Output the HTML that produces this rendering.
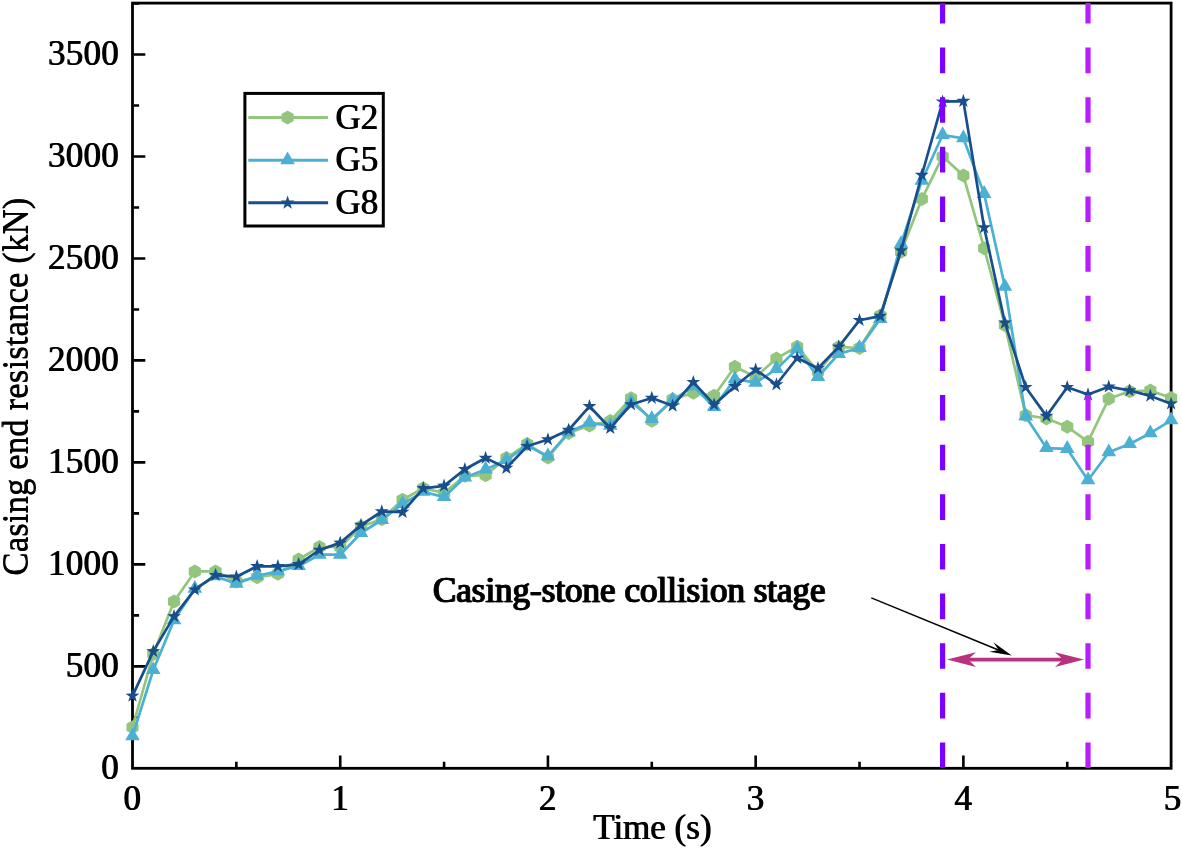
<!DOCTYPE html>
<html lang="en"><head><meta charset="utf-8"><title>Casing end resistance vs time</title>
<style>html,body{margin:0;padding:0;background:#fff}body{width:1182px;height:848px;overflow:hidden}svg{display:block}text{font-family:"Liberation Serif","Times New Roman",Times,serif;font-size:35px;fill:#000;}</style>
</head><body>
<svg width="1182" height="848" viewBox="0 0 1182 848">
<rect x="0" y="0" width="1182" height="848" fill="#fff"/>
<filter id="hb" filterUnits="userSpaceOnUse" x="0" y="0" width="1182" height="848"><feOffset in="SourceGraphic" dx="1" dy="0" result="a"/><feMerge><feMergeNode in="a"/><feMergeNode in="SourceGraphic"/></feMerge></filter>
<rect x="132.5" y="3.1" width="1038.6" height="765.2" fill="none" stroke="#000" stroke-width="2.8"/>
<path d="M340.22,767.1V755.5M547.94,767.1V755.5M755.66,767.1V755.5M963.38,767.1V755.5M236.36,767.1V761.7M444.08,767.1V761.7M651.8,767.1V761.7M859.52,767.1V761.7M1067.24,767.1V761.7M133.7,666.33H145.3M133.7,564.36H145.3M133.7,462.39H145.3M133.7,360.41H145.3M133.7,258.44H145.3M133.7,156.47H145.3M133.7,54.5H145.3M133.7,717.31H139.1M133.7,615.34H139.1M133.7,513.37H139.1M133.7,411.4H139.1M133.7,309.43H139.1M133.7,207.46H139.1M133.7,105.49H139.1M133.7,3.51H139.1" stroke="#000" stroke-width="2.6" fill="none"/>
<g text-anchor="end" filter="url(#hb)" letter-spacing="0.3">
<text x="118.6" y="779">0</text>
<text x="118.6" y="677.03">500</text>
<text x="118.6" y="575.06">1000</text>
<text x="118.6" y="473.09">1500</text>
<text x="118.6" y="371.11">2000</text>
<text x="118.6" y="269.14">2500</text>
<text x="118.6" y="167.17">3000</text>
<text x="118.6" y="65.2">3500</text>
</g>
<g text-anchor="middle" filter="url(#hb)">
<text x="131.8" y="809.6">0</text>
<text x="339.52" y="809.6">1</text>
<text x="547.24" y="809.6">2</text>
<text x="754.96" y="809.6">3</text>
<text x="962.68" y="809.6">4</text>
<text x="1171.9" y="809.6">5</text>
</g>
<text x="651.9" y="839" text-anchor="middle" filter="url(#hb)">Time (s)</text>
<g filter="url(#hb)"><text transform="translate(27.3 386.6) rotate(-90)" text-anchor="middle">Casing end resistance (kN)</text></g>
<polyline points="132.5,727.3 153.27,654 174.04,601.4 194.82,571.4 215.59,571.4 236.36,581.5 257.13,577.3 277.9,573.8 298.68,559.5 319.45,547 340.22,547 360.99,526.5 381.76,519.2 402.54,499.7 423.31,488.3 444.08,493 464.85,475.8 485.62,475.2 506.4,458 527.17,444 547.94,457.4 568.71,432.9 589.48,425.6 610.26,421 631.03,398.3 651.8,420.8 672.57,399.2 693.34,392.8 714.12,395.8 734.89,366.8 755.66,376.9 776.43,358.5 797.2,346.7 817.98,371.7 838.75,346.9 859.52,348 880.29,315.5 901.06,251.8 921.84,199.1 942.61,156.4 963.38,175.6 984.15,248.2 1004.92,325.2 1025.7,415.2 1046.47,418.5 1067.24,426.8 1088.01,441.7 1108.78,398.7 1129.56,391.3 1150.33,390.5 1171.1,397.9" fill="none" stroke="#93c57d" stroke-width="2.7" stroke-linejoin="round"/>
<path d="M132.5,720.3L126.44,723.8L126.44,730.8L132.5,734.3L138.56,730.8L138.56,723.8ZM153.27,647L147.21,650.5L147.21,657.5L153.27,661L159.33,657.5L159.33,650.5ZM174.04,594.4L167.98,597.9L167.98,604.9L174.04,608.4L180.11,604.9L180.11,597.9ZM194.82,564.4L188.75,567.9L188.75,574.9L194.82,578.4L200.88,574.9L200.88,567.9ZM215.59,564.4L209.53,567.9L209.53,574.9L215.59,578.4L221.65,574.9L221.65,567.9ZM236.36,574.5L230.3,578L230.3,585L236.36,588.5L242.42,585L242.42,578ZM257.13,570.3L251.07,573.8L251.07,580.8L257.13,584.3L263.19,580.8L263.19,573.8ZM277.9,566.8L271.84,570.3L271.84,577.3L277.9,580.8L283.97,577.3L283.97,570.3ZM298.68,552.5L292.61,556L292.61,563L298.68,566.5L304.74,563L304.74,556ZM319.45,540L313.39,543.5L313.39,550.5L319.45,554L325.51,550.5L325.51,543.5ZM340.22,540L334.16,543.5L334.16,550.5L340.22,554L346.28,550.5L346.28,543.5ZM360.99,519.5L354.93,523L354.93,530L360.99,533.5L367.05,530L367.05,523ZM381.76,512.2L375.7,515.7L375.7,522.7L381.76,526.2L387.83,522.7L387.83,515.7ZM402.54,492.7L396.47,496.2L396.47,503.2L402.54,506.7L408.6,503.2L408.6,496.2ZM423.31,481.3L417.25,484.8L417.25,491.8L423.31,495.3L429.37,491.8L429.37,484.8ZM444.08,486L438.02,489.5L438.02,496.5L444.08,500L450.14,496.5L450.14,489.5ZM464.85,468.8L458.79,472.3L458.79,479.3L464.85,482.8L470.91,479.3L470.91,472.3ZM485.62,468.2L479.56,471.7L479.56,478.7L485.62,482.2L491.69,478.7L491.69,471.7ZM506.4,451L500.33,454.5L500.33,461.5L506.4,465L512.46,461.5L512.46,454.5ZM527.17,437L521.11,440.5L521.11,447.5L527.17,451L533.23,447.5L533.23,440.5ZM547.94,450.4L541.88,453.9L541.88,460.9L547.94,464.4L554,460.9L554,453.9ZM568.71,425.9L562.65,429.4L562.65,436.4L568.71,439.9L574.77,436.4L574.77,429.4ZM589.48,418.6L583.42,422.1L583.42,429.1L589.48,432.6L595.55,429.1L595.55,422.1ZM610.26,414L604.19,417.5L604.19,424.5L610.26,428L616.32,424.5L616.32,417.5ZM631.03,391.3L624.97,394.8L624.97,401.8L631.03,405.3L637.09,401.8L637.09,394.8ZM651.8,413.8L645.74,417.3L645.74,424.3L651.8,427.8L657.86,424.3L657.86,417.3ZM672.57,392.2L666.51,395.7L666.51,402.7L672.57,406.2L678.63,402.7L678.63,395.7ZM693.34,385.8L687.28,389.3L687.28,396.3L693.34,399.8L699.41,396.3L699.41,389.3ZM714.12,388.8L708.05,392.3L708.05,399.3L714.12,402.8L720.18,399.3L720.18,392.3ZM734.89,359.8L728.83,363.3L728.83,370.3L734.89,373.8L740.95,370.3L740.95,363.3ZM755.66,369.9L749.6,373.4L749.6,380.4L755.66,383.9L761.72,380.4L761.72,373.4ZM776.43,351.5L770.37,355L770.37,362L776.43,365.5L782.49,362L782.49,355ZM797.2,339.7L791.14,343.2L791.14,350.2L797.2,353.7L803.27,350.2L803.27,343.2ZM817.98,364.7L811.91,368.2L811.91,375.2L817.98,378.7L824.04,375.2L824.04,368.2ZM838.75,339.9L832.69,343.4L832.69,350.4L838.75,353.9L844.81,350.4L844.81,343.4ZM859.52,341L853.46,344.5L853.46,351.5L859.52,355L865.58,351.5L865.58,344.5ZM880.29,308.5L874.23,312L874.23,319L880.29,322.5L886.35,319L886.35,312ZM901.06,244.8L895,248.3L895,255.3L901.06,258.8L907.13,255.3L907.13,248.3ZM921.84,192.1L915.77,195.6L915.77,202.6L921.84,206.1L927.9,202.6L927.9,195.6ZM942.61,149.4L936.55,152.9L936.55,159.9L942.61,163.4L948.67,159.9L948.67,152.9ZM963.38,168.6L957.32,172.1L957.32,179.1L963.38,182.6L969.44,179.1L969.44,172.1ZM984.15,241.2L978.09,244.7L978.09,251.7L984.15,255.2L990.21,251.7L990.21,244.7ZM1004.92,318.2L998.86,321.7L998.86,328.7L1004.92,332.2L1010.99,328.7L1010.99,321.7ZM1025.7,408.2L1019.63,411.7L1019.63,418.7L1025.7,422.2L1031.76,418.7L1031.76,411.7ZM1046.47,411.5L1040.41,415L1040.41,422L1046.47,425.5L1052.53,422L1052.53,415ZM1067.24,419.8L1061.18,423.3L1061.18,430.3L1067.24,433.8L1073.3,430.3L1073.3,423.3ZM1088.01,434.7L1081.95,438.2L1081.95,445.2L1088.01,448.7L1094.07,445.2L1094.07,438.2ZM1108.78,391.7L1102.72,395.2L1102.72,402.2L1108.78,405.7L1114.85,402.2L1114.85,395.2ZM1129.56,384.3L1123.49,387.8L1123.49,394.8L1129.56,398.3L1135.62,394.8L1135.62,387.8ZM1150.33,383.5L1144.27,387L1144.27,394L1150.33,397.5L1156.39,394L1156.39,387ZM1171.1,390.9L1165.04,394.4L1165.04,401.4L1171.1,404.9L1177.16,401.4L1177.16,394.4Z" fill="#93c57d"/>
<polyline points="132.5,736.2 153.27,670 174.04,620.3 194.82,588.7 215.59,576.3 236.36,583.8 257.13,575.8 277.9,571.3 298.68,566 319.45,554.7 340.22,554.7 360.99,533 381.76,520 402.54,504 423.31,491.8 444.08,497.1 464.85,477.5 485.62,469.5 506.4,460 527.17,445.5 547.94,456.2 568.71,432.3 589.48,422.8 610.26,425.7 631.03,402 651.8,419 672.57,400.4 693.34,386.3 714.12,407 734.89,379.2 755.66,382.7 776.43,369.1 797.2,349 817.98,377 838.75,353.9 859.52,348 880.29,318.9 901.06,244 921.84,180.7 942.61,135 963.38,138.3 984.15,193.9 1004.92,286.8 1025.7,416.4 1046.47,448.1 1067.24,448.9 1088.01,480.3 1108.78,452.2 1129.56,444 1150.33,433.2 1171.1,420.3" fill="none" stroke="#4bb0d2" stroke-width="2.7" stroke-linejoin="round"/>
<path d="M132.5,727.4L139.8,740.2L125.2,740.2ZM153.27,661.2L160.57,674L145.97,674ZM174.04,611.5L181.34,624.3L166.74,624.3ZM194.82,579.9L202.12,592.7L187.52,592.7ZM215.59,567.5L222.89,580.3L208.29,580.3ZM236.36,575L243.66,587.8L229.06,587.8ZM257.13,567L264.43,579.8L249.83,579.8ZM277.9,562.5L285.2,575.3L270.6,575.3ZM298.68,557.2L305.98,570L291.38,570ZM319.45,545.9L326.75,558.7L312.15,558.7ZM340.22,545.9L347.52,558.7L332.92,558.7ZM360.99,524.2L368.29,537L353.69,537ZM381.76,511.2L389.06,524L374.46,524ZM402.54,495.2L409.84,508L395.24,508ZM423.31,483L430.61,495.8L416.01,495.8ZM444.08,488.3L451.38,501.1L436.78,501.1ZM464.85,468.7L472.15,481.5L457.55,481.5ZM485.62,460.7L492.92,473.5L478.32,473.5ZM506.4,451.2L513.7,464L499.1,464ZM527.17,436.7L534.47,449.5L519.87,449.5ZM547.94,447.4L555.24,460.2L540.64,460.2ZM568.71,423.5L576.01,436.3L561.41,436.3ZM589.48,414L596.78,426.8L582.18,426.8ZM610.26,416.9L617.56,429.7L602.96,429.7ZM631.03,393.2L638.33,406L623.73,406ZM651.8,410.2L659.1,423L644.5,423ZM672.57,391.6L679.87,404.4L665.27,404.4ZM693.34,377.5L700.64,390.3L686.04,390.3ZM714.12,398.2L721.42,411L706.82,411ZM734.89,370.4L742.19,383.2L727.59,383.2ZM755.66,373.9L762.96,386.7L748.36,386.7ZM776.43,360.3L783.73,373.1L769.13,373.1ZM797.2,340.2L804.5,353L789.9,353ZM817.98,368.2L825.28,381L810.68,381ZM838.75,345.1L846.05,357.9L831.45,357.9ZM859.52,339.2L866.82,352L852.22,352ZM880.29,310.1L887.59,322.9L872.99,322.9ZM901.06,235.2L908.36,248L893.76,248ZM921.84,171.9L929.14,184.7L914.54,184.7ZM942.61,126.2L949.91,139L935.31,139ZM963.38,129.5L970.68,142.3L956.08,142.3ZM984.15,185.1L991.45,197.9L976.85,197.9ZM1004.92,278L1012.22,290.8L997.62,290.8ZM1025.7,407.6L1033,420.4L1018.4,420.4ZM1046.47,439.3L1053.77,452.1L1039.17,452.1ZM1067.24,440.1L1074.54,452.9L1059.94,452.9ZM1088.01,471.5L1095.31,484.3L1080.71,484.3ZM1108.78,443.4L1116.08,456.2L1101.48,456.2ZM1129.56,435.2L1136.86,448L1122.26,448ZM1150.33,424.4L1157.63,437.2L1143.03,437.2ZM1171.1,411.5L1178.4,424.3L1163.8,424.3Z" fill="#4bb0d2"/>
<polyline points="132.5,695.9 153.27,651.4 174.04,616.4 194.82,589.7 215.59,575.2 236.36,576.7 257.13,566.3 277.9,566.3 298.68,564.3 319.45,550 340.22,542.9 360.99,525.1 381.76,511.5 402.54,512.1 423.31,488.3 444.08,485.9 464.85,469.3 485.62,458 506.4,468.1 527.17,446.2 547.94,439.5 568.71,430 589.48,406.3 610.26,428.2 631.03,404.5 651.8,398 672.57,405.8 693.34,382.2 714.12,404.7 734.89,386.3 755.66,369.7 776.43,384.5 797.2,358 817.98,368.2 838.75,346.9 859.52,320.2 880.29,316.1 901.06,250.6 921.84,175 942.61,101.7 963.38,101.1 984.15,227.5 1004.92,322.8 1025.7,387.2 1046.47,416.1 1067.24,387.2 1088.01,394.6 1108.78,386.7 1129.56,390.5 1150.33,395.9 1171.1,403.7" fill="none" stroke="#194e8c" stroke-width="2.7" stroke-linejoin="round"/>
<path d="M132.5,688.6L130.82,693.59L125.56,693.64L129.79,696.78L128.21,701.81L132.5,698.75L136.79,701.81L135.21,696.78L139.44,693.64L134.18,693.59ZM153.27,644.1L151.6,649.09L146.33,649.14L150.56,652.28L148.98,657.31L153.27,654.25L157.56,657.31L155.98,652.28L160.21,649.14L154.95,649.09ZM174.04,609.1L172.37,614.09L167.1,614.14L171.33,617.28L169.75,622.31L174.04,619.25L178.33,622.31L176.75,617.28L180.99,614.14L175.72,614.09ZM194.82,582.4L193.14,587.39L187.87,587.44L192.11,590.58L190.53,595.61L194.82,592.55L199.11,595.61L197.53,590.58L201.76,587.44L196.49,587.39ZM215.59,567.9L213.91,572.89L208.65,572.94L212.88,576.08L211.3,581.11L215.59,578.05L219.88,581.11L218.3,576.08L222.53,572.94L217.26,572.89ZM236.36,569.4L234.68,574.39L229.42,574.44L233.65,577.58L232.07,582.61L236.36,579.55L240.65,582.61L239.07,577.58L243.3,574.44L238.04,574.39ZM257.13,559L255.46,563.99L250.19,564.04L254.42,567.18L252.84,572.21L257.13,569.15L261.42,572.21L259.84,567.18L264.07,564.04L258.81,563.99ZM277.9,559L276.23,563.99L270.96,564.04L275.19,567.18L273.61,572.21L277.9,569.15L282.19,572.21L280.61,567.18L284.85,564.04L279.58,563.99ZM298.68,557L297,561.99L291.73,562.04L295.97,565.18L294.39,570.21L298.68,567.15L302.97,570.21L301.39,565.18L305.62,562.04L300.35,561.99ZM319.45,542.7L317.77,547.69L312.51,547.74L316.74,550.88L315.16,555.91L319.45,552.85L323.74,555.91L322.16,550.88L326.39,547.74L321.12,547.69ZM340.22,535.6L338.54,540.59L333.28,540.64L337.51,543.78L335.93,548.81L340.22,545.75L344.51,548.81L342.93,543.78L347.16,540.64L341.9,540.59ZM360.99,517.8L359.32,522.79L354.05,522.84L358.28,525.98L356.7,531.01L360.99,527.95L365.28,531.01L363.7,525.98L367.93,522.84L362.67,522.79ZM381.76,504.2L380.09,509.19L374.82,509.24L379.05,512.38L377.47,517.41L381.76,514.35L386.05,517.41L384.47,512.38L388.71,509.24L383.44,509.19ZM402.54,504.8L400.86,509.79L395.59,509.84L399.83,512.98L398.25,518.01L402.54,514.95L406.83,518.01L405.25,512.98L409.48,509.84L404.21,509.79ZM423.31,481L421.63,485.99L416.37,486.04L420.6,489.18L419.02,494.21L423.31,491.15L427.6,494.21L426.02,489.18L430.25,486.04L424.98,485.99ZM444.08,478.6L442.4,483.59L437.14,483.64L441.37,486.78L439.79,491.81L444.08,488.75L448.37,491.81L446.79,486.78L451.02,483.64L445.76,483.59ZM464.85,462L463.18,466.99L457.91,467.04L462.14,470.18L460.56,475.21L464.85,472.15L469.14,475.21L467.56,470.18L471.79,467.04L466.53,466.99ZM485.62,450.7L483.95,455.69L478.68,455.74L482.91,458.88L481.33,463.91L485.62,460.85L489.91,463.91L488.33,458.88L492.57,455.74L487.3,455.69ZM506.4,460.8L504.72,465.79L499.45,465.84L503.69,468.98L502.11,474.01L506.4,470.95L510.69,474.01L509.11,468.98L513.34,465.84L508.07,465.79ZM527.17,438.9L525.49,443.89L520.23,443.94L524.46,447.08L522.88,452.11L527.17,449.05L531.46,452.11L529.88,447.08L534.11,443.94L528.84,443.89ZM547.94,432.2L546.26,437.19L541,437.24L545.23,440.38L543.65,445.41L547.94,442.35L552.23,445.41L550.65,440.38L554.88,437.24L549.62,437.19ZM568.71,422.7L567.04,427.69L561.77,427.74L566,430.88L564.42,435.91L568.71,432.85L573,435.91L571.42,430.88L575.65,427.74L570.39,427.69ZM589.48,399L587.81,403.99L582.54,404.04L586.77,407.18L585.19,412.21L589.48,409.15L593.77,412.21L592.19,407.18L596.43,404.04L591.16,403.99ZM610.26,420.9L608.58,425.89L603.31,425.94L607.55,429.08L605.97,434.11L610.26,431.05L614.55,434.11L612.97,429.08L617.2,425.94L611.93,425.89ZM631.03,397.2L629.35,402.19L624.09,402.24L628.32,405.38L626.74,410.41L631.03,407.35L635.32,410.41L633.74,405.38L637.97,402.24L632.7,402.19ZM651.8,390.7L650.12,395.69L644.86,395.74L649.09,398.88L647.51,403.91L651.8,400.85L656.09,403.91L654.51,398.88L658.74,395.74L653.48,395.69ZM672.57,398.5L670.9,403.49L665.63,403.54L669.86,406.68L668.28,411.71L672.57,408.65L676.86,411.71L675.28,406.68L679.51,403.54L674.25,403.49ZM693.34,374.9L691.67,379.89L686.4,379.94L690.63,383.08L689.05,388.11L693.34,385.05L697.63,388.11L696.05,383.08L700.29,379.94L695.02,379.89ZM714.12,397.4L712.44,402.39L707.17,402.44L711.41,405.58L709.83,410.61L714.12,407.55L718.41,410.61L716.83,405.58L721.06,402.44L715.79,402.39ZM734.89,379L733.21,383.99L727.95,384.04L732.18,387.18L730.6,392.21L734.89,389.15L739.18,392.21L737.6,387.18L741.83,384.04L736.56,383.99ZM755.66,362.4L753.98,367.39L748.72,367.44L752.95,370.58L751.37,375.61L755.66,372.55L759.95,375.61L758.37,370.58L762.6,367.44L757.34,367.39ZM776.43,377.2L774.76,382.19L769.49,382.24L773.72,385.38L772.14,390.41L776.43,387.35L780.72,390.41L779.14,385.38L783.37,382.24L778.11,382.19ZM797.2,350.7L795.53,355.69L790.26,355.74L794.49,358.88L792.91,363.91L797.2,360.85L801.49,363.91L799.91,358.88L804.15,355.74L798.88,355.69ZM817.98,360.9L816.3,365.89L811.03,365.94L815.27,369.08L813.69,374.11L817.98,371.05L822.27,374.11L820.69,369.08L824.92,365.94L819.65,365.89ZM838.75,339.6L837.07,344.59L831.81,344.64L836.04,347.78L834.46,352.81L838.75,349.75L843.04,352.81L841.46,347.78L845.69,344.64L840.42,344.59ZM859.52,312.9L857.84,317.89L852.58,317.94L856.81,321.08L855.23,326.11L859.52,323.05L863.81,326.11L862.23,321.08L866.46,317.94L861.2,317.89ZM880.29,308.8L878.62,313.79L873.35,313.84L877.58,316.98L876,322.01L880.29,318.95L884.58,322.01L883,316.98L887.23,313.84L881.97,313.79ZM901.06,243.3L899.39,248.29L894.12,248.34L898.35,251.48L896.77,256.51L901.06,253.45L905.35,256.51L903.77,251.48L908.01,248.34L902.74,248.29ZM921.84,167.7L920.16,172.69L914.89,172.74L919.13,175.88L917.55,180.91L921.84,177.85L926.13,180.91L924.55,175.88L928.78,172.74L923.51,172.69ZM942.61,94.4L940.93,99.39L935.67,99.44L939.9,102.58L938.32,107.61L942.61,104.55L946.9,107.61L945.32,102.58L949.55,99.44L944.28,99.39ZM963.38,93.8L961.7,98.79L956.44,98.84L960.67,101.98L959.09,107.01L963.38,103.95L967.67,107.01L966.09,101.98L970.32,98.84L965.06,98.79ZM984.15,220.2L982.48,225.19L977.21,225.24L981.44,228.38L979.86,233.41L984.15,230.35L988.44,233.41L986.86,228.38L991.09,225.24L985.83,225.19ZM1004.92,315.5L1003.25,320.49L997.98,320.54L1002.21,323.68L1000.63,328.71L1004.92,325.65L1009.21,328.71L1007.63,323.68L1011.87,320.54L1006.6,320.49ZM1025.7,379.9L1024.02,384.89L1018.75,384.94L1022.99,388.08L1021.41,393.11L1025.7,390.05L1029.99,393.11L1028.41,388.08L1032.64,384.94L1027.37,384.89ZM1046.47,408.8L1044.79,413.79L1039.53,413.84L1043.76,416.98L1042.18,422.01L1046.47,418.95L1050.76,422.01L1049.18,416.98L1053.41,413.84L1048.14,413.79ZM1067.24,379.9L1065.56,384.89L1060.3,384.94L1064.53,388.08L1062.95,393.11L1067.24,390.05L1071.53,393.11L1069.95,388.08L1074.18,384.94L1068.92,384.89ZM1088.01,387.3L1086.34,392.29L1081.07,392.34L1085.3,395.48L1083.72,400.51L1088.01,397.45L1092.3,400.51L1090.72,395.48L1094.95,392.34L1089.69,392.29ZM1108.78,379.4L1107.11,384.39L1101.84,384.44L1106.07,387.58L1104.49,392.61L1108.78,389.55L1113.07,392.61L1111.49,387.58L1115.73,384.44L1110.46,384.39ZM1129.56,383.2L1127.88,388.19L1122.61,388.24L1126.85,391.38L1125.27,396.41L1129.56,393.35L1133.85,396.41L1132.27,391.38L1136.5,388.24L1131.23,388.19ZM1150.33,388.6L1148.65,393.59L1143.39,393.64L1147.62,396.78L1146.04,401.81L1150.33,398.75L1154.62,401.81L1153.04,396.78L1157.27,393.64L1152,393.59ZM1171.1,396.4L1169.42,401.39L1164.16,401.44L1168.39,404.58L1166.81,409.61L1171.1,406.55L1175.39,409.61L1173.81,404.58L1178.04,401.44L1172.78,401.39Z" fill="#194e8c"/>
<clipPath id="pc"><rect x="132.5" y="2.9" width="1038.6" height="765.9"/></clipPath>
<g clip-path="url(#pc)" stroke-width="5.2" stroke-dasharray="25.6 24.04" fill="none">
<path d="M942.61,-2.1V800" stroke="#7b00ff"/>
<path d="M1088.01,-2.1V800" stroke="#b81cff"/>
</g>
<path d="M967,659.6H1064" stroke="#b7337f" stroke-width="3.8" fill="none"/>
<path d="M947,659.6L976,652.3L968,659.6L976,666.9Z" fill="#b7337f"/>
<path d="M1084,659.6L1055,652.3L1063,659.6L1055,666.9Z" fill="#b7337f"/>
<path d="M871.3,597.9L999.67,650.47" stroke="#000" stroke-width="1.5" fill="none"/>
<path d="M1011.7,655.4L989.37,651.87L998.74,650.09L993.31,642.25Z" fill="#000"/>
<text x="432.4" y="602" filter="url(#hb)" stroke="#000" stroke-width="0.7">Casing-stone collision stage</text>
<rect x="244.9" y="93.4" width="138.4" height="132.6" fill="#fff" stroke="#000" stroke-width="3"/>
<path d="M248.3,117.5H328.1" stroke="#93c57d" stroke-width="3" fill="none"/>
<path d="M287.6,110.5L281.54,114L281.54,121L287.6,124.5L293.66,121L293.66,114Z" fill="#93c57d"/>
<text x="334.9" y="128.7" filter="url(#hb)">G2</text>
<path d="M248.3,160.3H328.1" stroke="#4bb0d2" stroke-width="3" fill="none"/>
<path d="M287.6,151.5L294.9,164.3L280.3,164.3Z" fill="#4bb0d2"/>
<text x="334.9" y="171.1" filter="url(#hb)">G5</text>
<path d="M248.3,202.8H328.1" stroke="#194e8c" stroke-width="3" fill="none"/>
<path d="M287.6,195.5L285.92,200.49L280.66,200.54L284.89,203.68L283.31,208.71L287.6,205.65L291.89,208.71L290.31,203.68L294.54,200.54L289.28,200.49Z" fill="#194e8c"/>
<text x="334.9" y="213.6" filter="url(#hb)">G8</text>
</svg>
</body></html>
